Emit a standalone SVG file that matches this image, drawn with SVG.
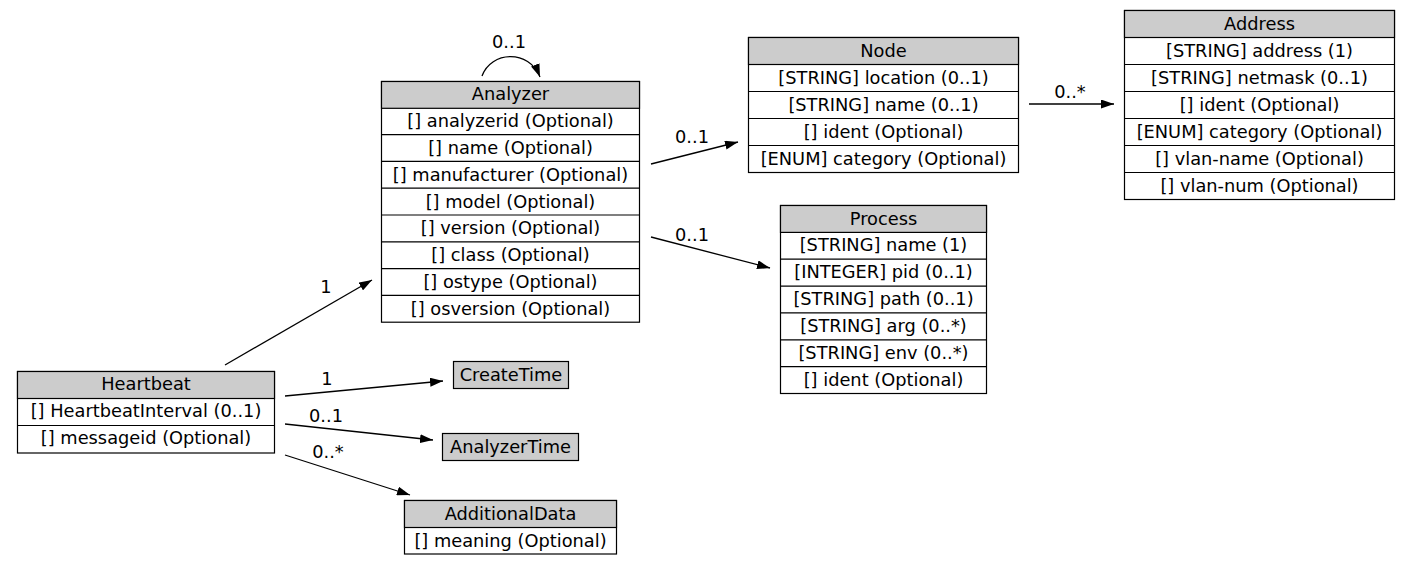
<svg xmlns="http://www.w3.org/2000/svg" width="1411" height="564" viewBox="0 0 1411 564">
<defs>
<style>
text{font-family:"DejaVu Sans","Noto Sans",sans-serif;font-size:17.8px;fill:#000;text-anchor:middle}
.box{fill:#fff;stroke:#000;stroke-width:1.2}
.hd{fill:#cccccc;stroke:#000;stroke-width:1.2}
.sep{stroke:#000;stroke-width:1.2}
.edge{fill:none;stroke:#000;stroke-width:1.3;marker-end:url(#arr)}
</style>
<marker id="arr" viewBox="0 0 13 9" refX="13" refY="4.5" markerWidth="13" markerHeight="9" markerUnits="userSpaceOnUse" orient="auto">
<path d="M0,0 L13,4.5 L0,9 z" fill="#000"/>
</marker>
</defs>
<rect width="1411" height="564" fill="#fff"/>

<g id="connectors">
<path class="edge" d="M225,365 L372,280"/>
<text x="326" y="293">1</text>
<path class="edge" d="M285,396 L443,381"/>
<text x="327" y="385">1</text>
<path class="edge" d="M285,424 L433,440"/>
<text x="326" y="421.5">0..1</text>
<path class="edge" d="M285,455 L410,495"/>
<text x="328" y="457.5">0..*</text>
<path class="edge" d="M651,164 L738,142"/>
<text x="692" y="143">0..1</text>
<path class="edge" d="M651,237 L770,268"/>
<text x="692" y="240.5">0..1</text>
<path class="edge" d="M1029,104 L1114,104"/>
<text x="1070" y="98">0..*</text>
<path class="edge" d="M482,76 C491,51 529,49 540,77"/>
<text x="509" y="48">0..1</text>
</g>

<g id="Analyzer">
<rect class="box" x="381.5" y="81.5" width="258" height="240.7"/>
<rect class="hd" x="381.5" y="81.5" width="258" height="26.8"/>
<line class="sep" x1="381.5" y1="134.6" x2="639.5" y2="134.6"/>
<line class="sep" x1="381.5" y1="161.4" x2="639.5" y2="161.4"/>
<line class="sep" x1="381.5" y1="188.2" x2="639.5" y2="188.2"/>
<line class="sep" x1="381.5" y1="215" x2="639.5" y2="215"/>
<line class="sep" x1="381.5" y1="241.8" x2="639.5" y2="241.8"/>
<line class="sep" x1="381.5" y1="268.6" x2="639.5" y2="268.6"/>
<line class="sep" x1="381.5" y1="295.4" x2="639.5" y2="295.4"/>
<text x="510.5" y="100.3">Analyzer</text>
<text x="510.5" y="127.1">[] analyzerid (Optional)</text>
<text x="510.5" y="153.9">[] name (Optional)</text>
<text x="510.5" y="180.7">[] manufacturer (Optional)</text>
<text x="510.5" y="207.5">[] model (Optional)</text>
<text x="510.5" y="234.3">[] version (Optional)</text>
<text x="510.5" y="261.1">[] class (Optional)</text>
<text x="510.5" y="287.9">[] ostype (Optional)</text>
<text x="510.5" y="314.7">[] osversion (Optional)</text>
</g>

<g id="Heartbeat">
<rect class="box" x="17.5" y="371.5" width="257" height="81.5"/>
<rect class="hd" x="17.5" y="371.5" width="257" height="27"/>
<line class="sep" x1="17.5" y1="425.5" x2="274.5" y2="425.5"/>
<text x="146" y="389.5">Heartbeat</text>
<text x="146" y="416.5">[] HeartbeatInterval (0..1)</text>
<text x="146" y="443.5">[] messageid (Optional)</text>
</g>

<g id="Node">
<rect class="box" x="748.5" y="37.5" width="270" height="135"/>
<rect class="hd" x="748.5" y="37.5" width="270" height="27"/>
<line class="sep" x1="748.5" y1="91.5" x2="1018.5" y2="91.5"/>
<line class="sep" x1="748.5" y1="118.5" x2="1018.5" y2="118.5"/>
<line class="sep" x1="748.5" y1="145.5" x2="1018.5" y2="145.5"/>
<text x="883.5" y="56.5">Node</text>
<text x="883.5" y="83.5">[STRING] location (0..1)</text>
<text x="883.5" y="110.5">[STRING] name (0..1)</text>
<text x="883.5" y="137.5">[] ident (Optional)</text>
<text x="883.5" y="164.5">[ENUM] category (Optional)</text>
</g>

<g id="Address">
<rect class="box" x="1124.5" y="10.5" width="270" height="189"/>
<rect class="hd" x="1124.5" y="10.5" width="270" height="27"/>
<line class="sep" x1="1124.5" y1="64.5" x2="1394.5" y2="64.5"/>
<line class="sep" x1="1124.5" y1="91.5" x2="1394.5" y2="91.5"/>
<line class="sep" x1="1124.5" y1="118.5" x2="1394.5" y2="118.5"/>
<line class="sep" x1="1124.5" y1="145.5" x2="1394.5" y2="145.5"/>
<line class="sep" x1="1124.5" y1="172.5" x2="1394.5" y2="172.5"/>
<text x="1259.5" y="29.5">Address</text>
<text x="1259.5" y="56.5">[STRING] address (1)</text>
<text x="1259.5" y="83.5">[STRING] netmask (0..1)</text>
<text x="1259.5" y="110.5">[] ident (Optional)</text>
<text x="1259.5" y="137.5">[ENUM] category (Optional)</text>
<text x="1259.5" y="164.5">[] vlan-name (Optional)</text>
<text x="1259.5" y="191.5">[] vlan-num (Optional)</text>
</g>

<g id="Process">
<rect class="box" x="780.5" y="205.5" width="206" height="188"/>
<rect class="hd" x="780.5" y="205.5" width="206" height="26.9"/>
<line class="sep" x1="780.5" y1="259.2" x2="986.5" y2="259.2"/>
<line class="sep" x1="780.5" y1="286.1" x2="986.5" y2="286.1"/>
<line class="sep" x1="780.5" y1="312.9" x2="986.5" y2="312.9"/>
<line class="sep" x1="780.5" y1="339.8" x2="986.5" y2="339.8"/>
<line class="sep" x1="780.5" y1="366.6" x2="986.5" y2="366.6"/>
<text x="883.5" y="224.5">Process</text>
<text x="883.5" y="251.4">[STRING] name (1)</text>
<text x="883.5" y="278.2">[INTEGER] pid (0..1)</text>
<text x="883.5" y="305.1">[STRING] path (0..1)</text>
<text x="883.5" y="331.9">[STRING] arg (0..*)</text>
<text x="883.5" y="358.8">[STRING] env (0..*)</text>
<text x="883.5" y="385.6">[] ident (Optional)</text>
</g>

<g id="CreateTime">
<rect class="hd" x="453.5" y="361.5" width="115" height="27"/>
<text x="511" y="380.5">CreateTime</text>
</g>

<g id="AnalyzerTime">
<rect class="hd" x="442.5" y="433.5" width="136" height="27"/>
<text x="510.5" y="452.5">AnalyzerTime</text>
</g>

<g id="AdditionalData">
<rect class="box" x="404.5" y="500.5" width="212" height="53.5"/>
<rect class="hd" x="404.5" y="500.5" width="212" height="27"/>
<text x="510.5" y="519.5">AdditionalData</text>
<text x="510.5" y="546.5">[] meaning (Optional)</text>
</g>
</svg>
